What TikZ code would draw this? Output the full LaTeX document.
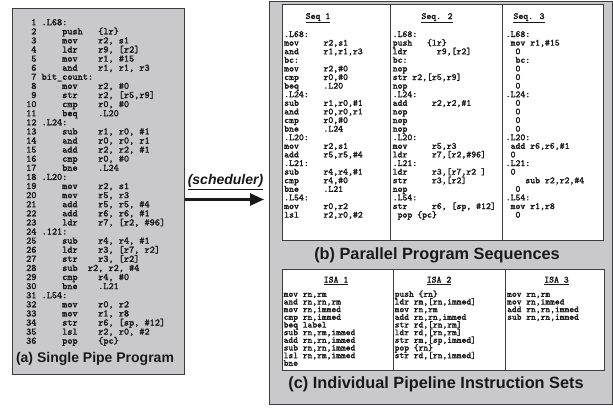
\documentclass[tikz,border=0pt]{standalone}
\usepackage{fontspec}
\setmainfont{Liberation Sans}
\newfontfamily\asmfont{lmmono10-regular.otf}[FakeBold=2]
\usetikzlibrary{arrows.meta}
\definecolor{panelgray}{RGB}{201, 201, 204}
\definecolor{edge}{RGB}{60, 60, 60}
\definecolor{ink}{RGB}{25, 25, 25}

% one node per line of code: style, x, first baseline, step, name, lines
\newcommand\asmlines[6]{%
  \foreach \asmtext [count=\idx] in {#6}
    \node[#1] (#5-\idx) at ({#2},{#3+(\idx-1)*#4}) {\asmtext};%
}

\begin{document}
\begin{tikzpicture}[
        x=1pt, y=-1pt,
        panel/.style={draw=edge, fill=panelgray, line width=0.9pt, inner sep=0pt, anchor=north west},
        box/.style={draw=edge, fill=white, line width=0.8pt, inner sep=0pt, anchor=north west},
        rule/.style={draw=edge, line width=0.8pt},
        asm/.style={anchor=base west, inner sep=0pt, text=ink,
            font=\asmfont\fontsize{9.8}{10}\selectfont},
        seqasm/.style={asm, font=\asmfont\fontsize{9.35}{10}\selectfont},
        isaasm/.style={asm, font=\asmfont\fontsize{9.1}{10}\selectfont},
        head/.style={seqasm, anchor=base},
        capt/.style={text=ink, inner sep=0pt, font=\bfseries\fontsize{16.3}{18}\selectfont},
        sched/.style={draw=ink, line width=2.5pt, -{Triangle[length=14pt,width=12pt]}}
    ]
    \useasboundingbox (0,0) rectangle (613,407);
    \fill[white] (0,0) rectangle (613,407);

    % (a) single pipe program
    \node[panel, minimum width=172pt, minimum height=366pt] (single) at (11.7,8.3) {};
    \asmlines{asm}{26}{25.2}{9.1}{prog}{
        {~1~.L68:},
        {~2~~~~~push~~~\{lr\}},
        {~3~~~~~mov~~~~r2,~s1},
        {~4~~~~~ldr~~~~r9,~[r2]},
        {~5~~~~~mov~~~~r1,~\#15},
        {~6~~~~~and~~~~r1,~r1,~r3},
        {~7~bit\_count:},
        {~8~~~~~mov~~~~r2,~\#0},
        {~9~~~~~str~~~~r2,~[r5,r9]},
        {10~~~~~cmp~~~~r0,~\#0},
        {11~~~~~beq~~~~.L20},
        {12~.L24:},
        {13~~~~~sub~~~~r1,~r0,~\#1},
        {14~~~~~and~~~~r0,~r0,~r1},
        {15~~~~~add~~~~r2,~r2,~\#1},
        {16~~~~~cmp~~~~r0,~\#0},
        {17~~~~~bne~~~~.L24},
        {18~.L20:},
        {19~~~~~mov~~~~r2,~s1},
        {20~~~~~mov~~~~r5,~r3},
        {21~~~~~add~~~~r5,~r5,~\#4},
        {22~~~~~add~~~~r6,~r6,~\#1},
        {23~~~~~ldr~~~~r7,~[r2,~\#96]},
        {24~.121:},
        {25~~~~~sub~~~~r4,~r4,~\#1},
        {26~~~~~ldr~~~~r3,~[r7,~r2]},
        {27~~~~~str~~~~r3,~[r2]},
        {28~~~~~sub~~r2,~r2,~\#4},
        {29~~~~~cmp~~~~r4,~\#0},
        {30~~~~~bne~~~~.L21},
        {31~.L54:},
        {32~~~~~mov~~~~r0,~r2},
        {33~~~~~mov~~~~r1,~r8},
        {34~~~~~str~~~~r6,~[sp,~\#12]},
        {35~~~~~lsl~~~~r2,~r0,~\#2},
        {36~~~~~pop~~~~\{pc\}}}
    \node[capt, font=\bfseries\fontsize{14}{16}\selectfont] (capa) at (95,359.3) {(a) Single Pipe Program};

    % scheduler arrow
    \node[anchor=base, inner sep=0pt, text=ink, font=\bfseries\itshape\fontsize{14}{16}\selectfont]
        (schedlbl) at (225.5,184.5) {\underline{(scheduler)}};
    \coordinate (schedtip) at (264,199.5);
    \draw[sched] (single.east |- schedtip) -- (schedtip);

    % (b) and (c)
    \node[panel, minimum width=342.5pt, minimum height=403pt] (multi) at (269,1) {};

    \node[box, minimum width=321pt, minimum height=236pt] (seqs) at (281.5,4) {};
    \draw[rule] (390,4) -- (390,240) (502.7,4) -- (502.7,240);
    \node[head] (seqh1) at (318,19) {\underline{Seq 1}};
    \node[head] (seqh2) at (437,19) {\underline{Seq. 2}};
    \node[head] (seqh3) at (529,19) {\underline{Seq. 3}};
    \asmlines{seqasm}{284}{37}{8.6}{seqa}{
        .L68:, {mov~~~~~r2,s1}, {and~~~~~r1,r1,r3}, bc:,
        {mov~~~~~r2,\#0}, {cmp~~~~~r0,\#0}, beq~~~~~.L20, .L24:,
        {sub~~~~~r1,r0,\#1}, {and~~~~~r0,r0,r1}, {cmp~~~~~r0,\#0}, bne~~~~~.L24,
        .L20:, {mov~~~~~r2,s1}, {add~~~~~r5,r5,\#4}, .L21:,
        {sub~~~~~r4,r4,\#1}, {cmp~~~~~r4,\#0}, bne~~~~~.L21, .L54:,
        {mov~~~~~r0,r2}, {lsl~~~~~r2,r0,\#2}}
    \asmlines{seqasm}{392.5}{37}{8.6}{seqb}{
        .L68:, push~~~\{lr\}, {ldr~~~~~~r9,[r2]}, bc:,
        nop, {str~r2,[r5,r9]}, nop, .L24:,
        {add~~~~~r2,r2,\#1}, nop, nop, nop,
        .L20:, {mov~~~~~r5,r3}, {ldr~~~~~r7,[r2,\#96]}, .L21:,
        {ldr~~~~~r3,[r7,r2~]}, {str~~~~~r3,[r2]}, nop, .L54:,
        {str~~~~~r6,~[sp,~\#12]}, ~pop~\{pc\}}
    \asmlines{seqasm}{505.5}{37}{8.6}{seqc}{
        .L68:, {~mov~r1,\#15}, ~~0, ~~bc:,
        ~~0, ~~0, ~~0, .L24:,
        ~~0, ~~0, ~~0, ~~0,
        .L20:, {~add~r6,r6,\#1}, ~0, .L21:,
        ~0, {~~~~sub~r2,r2,\#4}, ~~0, .L54:,
        {~mov~r1,r8}, ~~0}
    \node[capt] (capb) at (437,255) {(b) Parallel Program Sequences};

    \node[box, minimum width=322pt, minimum height=101pt] (isas) at (282,269) {};
    \draw[rule] (393,269) -- (393,370) (505,269) -- (505,370);
    \node[head] (isah1) at (336,282.5) {\underline{ISA 1}};
    \node[head] (isah2) at (439,282.5) {\underline{ISA 2}};
    \node[head] (isah3) at (556.5,282.5) {\underline{ISA 3}};
    \asmlines{isaasm}{283.5}{296.8}{7.67}{isaa}{
        {mov~rn,rm}, {and~rn,rn,rm}, {mov~rn,immed}, {cmp~rn,immed}, beq~label,
        {sub~rn,rm,immed}, {add~rn,rn,immed}, {sub~rn,rn,immed}, {lsl~rn,rm,immed}, bne}
    \asmlines{isaasm}{394.5}{296.8}{7.67}{isab}{
        push~\{rn\}, {ldr~rm,[rn,immed]}, {mov~rn,rm}, {add~rn,rn,immed}, {str~rd,[rn,rm]},
        {ldr~rd,[rn,rm]}, {str~rm,[sp,immed]}, pop~\{rn\}, {str~rd,[rn,immed]}}
    \asmlines{isaasm}{507}{296.8}{7.67}{isac}{
        {mov~rn,rm}, {mov~rn,immed}, {add~rn,rn,immed}, {sub~rn,rn,immed}}
    \node[capt] (capc) at (436,384.5) {(c) Individual Pipeline Instruction Sets};
\end{tikzpicture}
\end{document}
